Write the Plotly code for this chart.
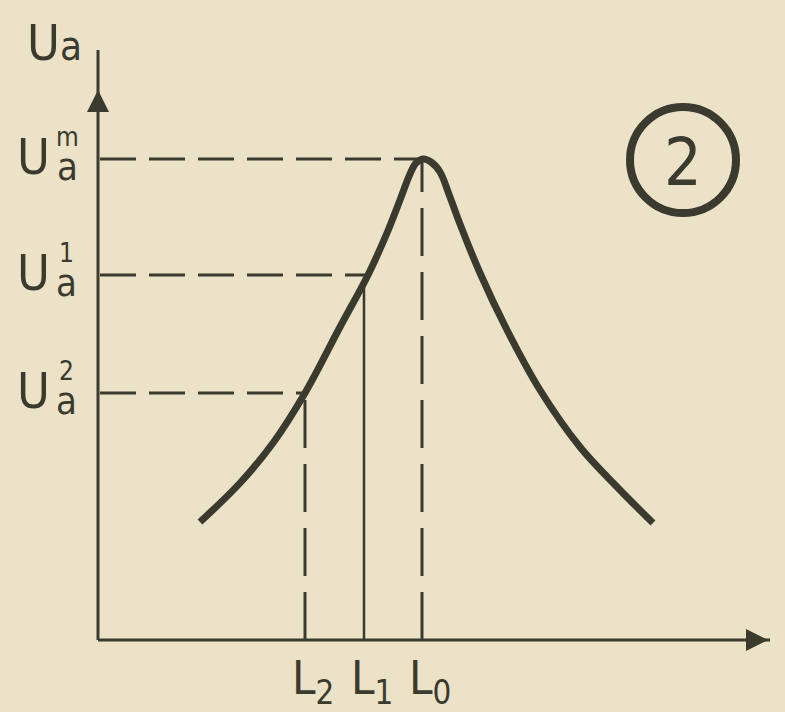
import numpy as np
import plotly.graph_objects as go

# resonance curve Ua(L)
curve_x = [102, 142, 175, 207, 242, 270, 289, 302, 312, 318, 325, 333, 342, 352, 362, 382, 409, 442, 482, 522, 555]
curve_y = [118, 157, 197, 247, 313, 365, 407, 440, 466, 477, 481, 478, 468, 443, 416, 367, 310, 250, 193, 150, 117]

L_vals = [324, 266, 207]            # L0, L1, L2
L_names = ["0", "1", "2"]
Ua_vals = [481, 365, 247]           # Ua^m, Ua^1, Ua^2
Ua_sups = ["m", "1", "2"]

ink = "#3b3a2e"
paper = "#ebe2c8"
font = "DejaVu Sans Condensed, Liberation Sans Narrow, DejaVu Sans, sans-serif"

fig = go.Figure()

# axes
fig.add_trace(go.Scatter(x=[0, 0], y=[0, 590], mode="lines", line=dict(color=ink, width=3)))
fig.add_trace(go.Scatter(x=[0, 672], y=[0, 0], mode="lines", line=dict(color=ink, width=3)))
# arrowheads
fig.add_trace(go.Scatter(x=[0], y=[550], mode="markers",
                         marker=dict(symbol="arrow-up", size=22, color=ink)))
fig.add_trace(go.Scatter(x=[670], y=[0], mode="markers",
                         marker=dict(symbol="arrow-right", size=22, color=ink)))

# dashed guides to the curve (rising branch only)
peak = int(np.argmax(curve_y))
for u in Ua_vals:
    xc = np.interp(u, curve_y[:peak + 1], curve_x[:peak + 1])
    fig.add_trace(go.Scatter(x=[2, xc], y=[u, u], mode="lines",
                             line=dict(color=ink, width=3, dash="36px,13px")))

for l, n in zip(L_vals, L_names):
    top = np.interp(l, curve_x, curve_y)
    solid = n == "1"
    fig.add_trace(go.Scatter(x=[l, l], y=[0, top], mode="lines",
                             line=dict(color=ink, width=2.5 if solid else 3,
                                       dash="solid" if solid else "48px,16px")))

fig.add_trace(go.Scatter(x=curve_x, y=curve_y, mode="lines", line_shape="spline",
                         line=dict(color=ink, width=7, smoothing=1.0)))


def txt(x, y, s, size, anchor="center"):
    fig.add_annotation(x=x, y=y, text=s, showarrow=False, xref="x", yref="y", xanchor=anchor,
                       borderpad=0, font=dict(family=font, size=size, color=ink))


# y labels
txt(-44, 597, "U<span style='font-size:40px'>a</span>", 50)
for u, s in zip(Ua_vals, Ua_sups):
    txt(-47, u + 2, "U", 50, "right")
    txt(-43, u + 4, s + "<br><span style='font-size:38px'>a</span>", 26, "left")

# x labels
for l, s in zip(L_vals, L_names):
    txt(l + 8, -41, "L<sub>" + s + "</sub>", 47)

# figure number
fig.add_shape(type="circle", x0=532, x1=638, y0=427, y1=533, line=dict(color=ink, width=8))
txt(585, 478, "2", 66)

fig.update_layout(width=785, height=712, margin=dict(l=0, r=0, t=0, b=0),
                  paper_bgcolor=paper, plot_bgcolor=paper, showlegend=False)
fig.update_xaxes(range=[-98, 687], visible=False)
fig.update_yaxes(range=[-72, 640], visible=False)

fig.write_html("out.html", config={"displayModeBar": False},
               post_script="document.body.style.margin='0';")
